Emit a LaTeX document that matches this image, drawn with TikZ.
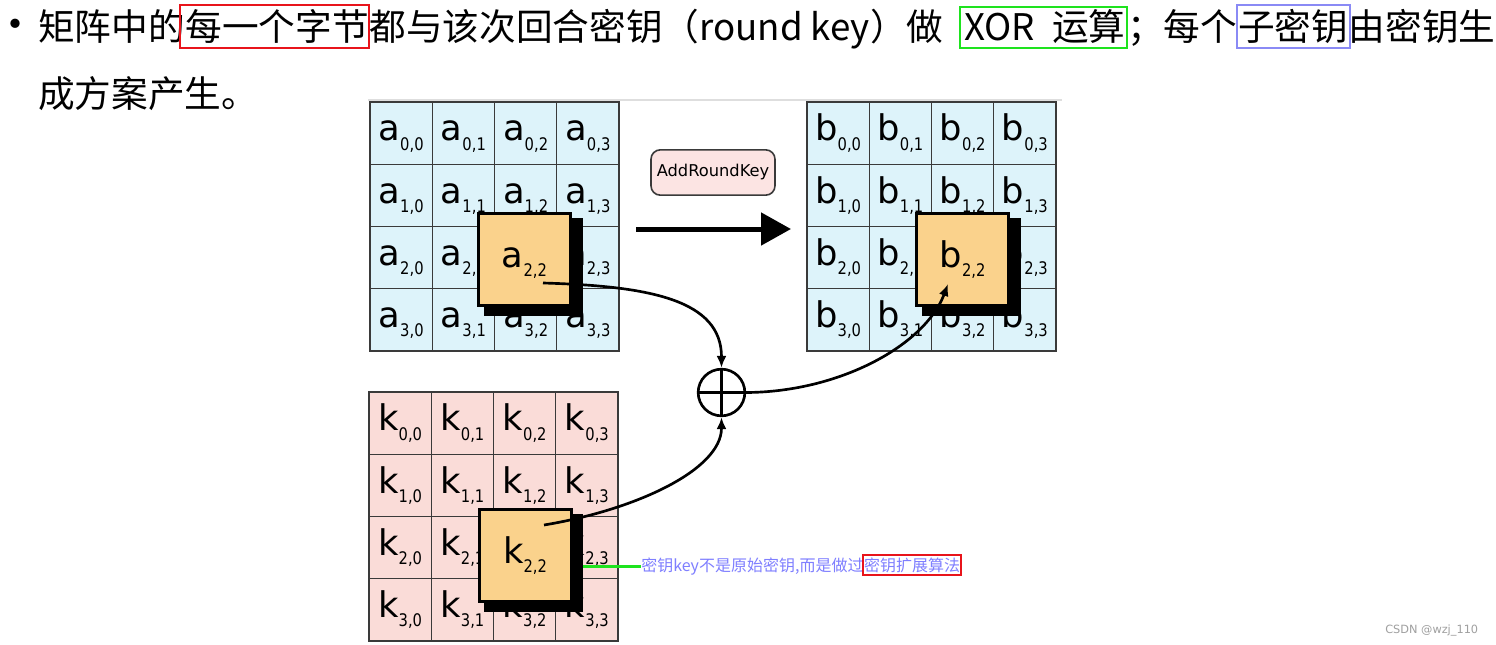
\documentclass[tikz,border=0pt]{standalone}
\usepackage{fontspec}
\usepackage{graphicx}
\setmainfont{DejaVu Sans}
\newfontfamily\cjkfont{Noto Sans CJK SC}
\usetikzlibrary{arrows.meta,calc}
\definecolor{cellblue}{HTML}{DDF3FA}
\definecolor{cellpink}{HTML}{FADCD8}
\definecolor{hilite}{HTML}{FAD28C}
\definecolor{gridline}{HTML}{3A3A3A}
\definecolor{notecol}{HTML}{7F7FFF}
\definecolor{boxred}{HTML}{E8141B}
\definecolor{boxgreen}{HTML}{1EE31E}
\definecolor{boxblue}{HTML}{8A8AF5}
\definecolor{keybox}{HTML}{FCE4E3}
\definecolor{wmark}{HTML}{A0A0A0}
\newcommand{\celltxt}[3]{#1\raisebox{-7pt}{\fontsize{13pt}{13pt}\selectfont\scalebox{0.85}[1]{#2,#3}}}
\begin{document}
\begin{tikzpicture}[x=0.75pt,y=-0.75pt,
  cell/.style={draw=gridline,line width=1pt,minimum width=46.69pt,minimum height=46.69pt,inner sep=0pt,text height=19pt,text depth=7.5pt,font=\fontsize{26.5pt}{26.5pt}\selectfont},
  cellA/.style={cell,fill=cellblue},
  cellK/.style={cell,fill=cellpink},
  shadowbox/.style={fill=black,draw=none,minimum width=74.25pt,minimum height=73.5pt,inner sep=0pt},
  hibox/.style={fill=hilite,draw=black,line width=2.25pt,minimum width=69pt,minimum height=69pt,inner sep=0pt,text height=19pt,text depth=7.5pt,font=\fontsize{26.5pt}{26.5pt}\selectfont},
  conn/.style={line width=2pt,-{Latex[length=9pt,width=7.5pt]}},
  title/.style={font=\cjkfont\fontsize{27.5pt}{27.5pt}\selectfont,inner sep=0pt,anchor=base west},
  note/.style={font=\cjkfont\fontsize{12pt}{12pt}\selectfont,text=notecol,inner sep=0pt,anchor=base west},
  markbox/.style={line width=1.5pt}
]
\fill[white] (0,0) rectangle (1496,644);
\path[use as bounding box] (0,0) rectangle (1496,644);

% title text
\node[font=\cjkfont\fontsize{33pt}{33pt}\selectfont,inner sep=0pt] (bul) at (15,29.5) {•};
\node[title] (t1) at (38,40.5) {矩阵中的};
\node[title] (t2) at (t1.base east) {每一个字节};
\node[title] (t3) at (t2.base east) {都与该次回合密钥（round key）做};
\node[title] (t4) at (964,40.5) {XOR};
\node[title] (t4b) at (1052,40.5) {运算};
\node[title] (t5) at (1127,40.5) {；每个};
\node[title] (t6) at (1238,40.5) {子密钥};
\node[title] (t7) at (t6.base east) {由密钥生};
\node[title] (t8) at (38,107.5) {成方案产生。};
\draw[markbox,boxred] ($(t2.base west)+(-5,7.5)$) rectangle ($(t2.base east)+(0,-35.5)$);
\draw[markbox,boxgreen] ($(t4.base west)+(-4,7)$) rectangle ($(t4b.base east)+(1,-34)$);
\draw[markbox,boxblue] ($(t6.base west)+(-1,7.5)$) rectangle ($(t6.base east)+(1,-35.5)$);

% faint frame line of the figure
\draw[black!13,line width=1.5pt] (368,100) -- (1062,100);

% grids
\foreach \r in {0,...,3}{
  \foreach \c in {0,...,3}{
    \node[cellA] (a-\r-\c) at ({401.125+62.25*\c},{133.125+62.25*\r}) {\celltxt{a}{\r}{\c}};
    \node[cellA] (b-\r-\c) at ({838.125+62.25*\c},{133.125+62.25*\r}) {\celltxt{b}{\r}{\c}};
    \node[cellK] (k-\r-\c) at ({400.125+62.25*\c},{423.125+62.25*\r}) {\celltxt{k}{\r}{\c}};
  }
}

% highlighted bytes
\node[shadowbox] (ash) at (533,267) {};
\node[hibox] (ahi) at (524.5,259.5) {\celltxt{a}{2}{2}};
\node[shadowbox] (bsh) at (971,267) {};
\node[hibox] (bhi) at (962.5,259.5) {\celltxt{b}{2}{2}};
\node[shadowbox] (ksh) at (533,563) {};
\node[hibox] (khi) at (525,555.5) {\celltxt{k}{2}{2}};

% AddRoundKey label and big arrow
\node[draw=gridline,fill=keybox,line width=1.2pt,rounded corners=7pt,minimum width=93pt,minimum height=34pt,inner sep=0pt,font=\fontsize{12.2pt}{12.2pt}\selectfont] (ark) at (713,172.5) {AddRoundKey};
\coordinate (bigS) at (636,229);
\coordinate (bigE) at (791,229);
\draw[line width=3.75pt,-{Triangle[length=22.5pt,width=24pt]}] (bigS) -- (bigE);

% XOR
\node[circle,draw=black,line width=2pt,minimum size=35pt,inner sep=0pt] (xor) at (721.5,392.5) {};
\draw[line width=2pt] (xor.north) -- (xor.south);
\draw[line width=2pt] (xor.west) -- (xor.east);

\coordinate (as) at (543,283);
\coordinate (ks) at (544,525);
\coordinate (bt) at (948,284);
\draw[conn] (as) .. controls (650,286) and (721.5,300) .. (xor.north);
\draw[conn] (ks) .. controls (635,510) and (721.5,470) .. (xor.south);
\draw[conn] (xor.east) .. controls (840,392) and (925,345) .. (bt);

% note
\node[note] (n1) at (641,571.5) {密钥key不是原始密钥,而是做过};
\node[note] (n2) at (n1.base east) {密钥扩展算法};
\draw[markbox,boxred] ($(n2.base west)+(-1,3)$) rectangle ($(n2.base east)+(1,-17)$);
\draw[line width=2.25pt,boxgreen] (ksh.east |- n1.west) -- (n1.west);

% watermark
\node[font=\fontsize{8.5pt}{8.5pt}\selectfont,text=wmark,inner sep=0pt,anchor=base west] (wm) at (1385,633) {CSDN @wzj\_110};
\end{tikzpicture}
\end{document}
